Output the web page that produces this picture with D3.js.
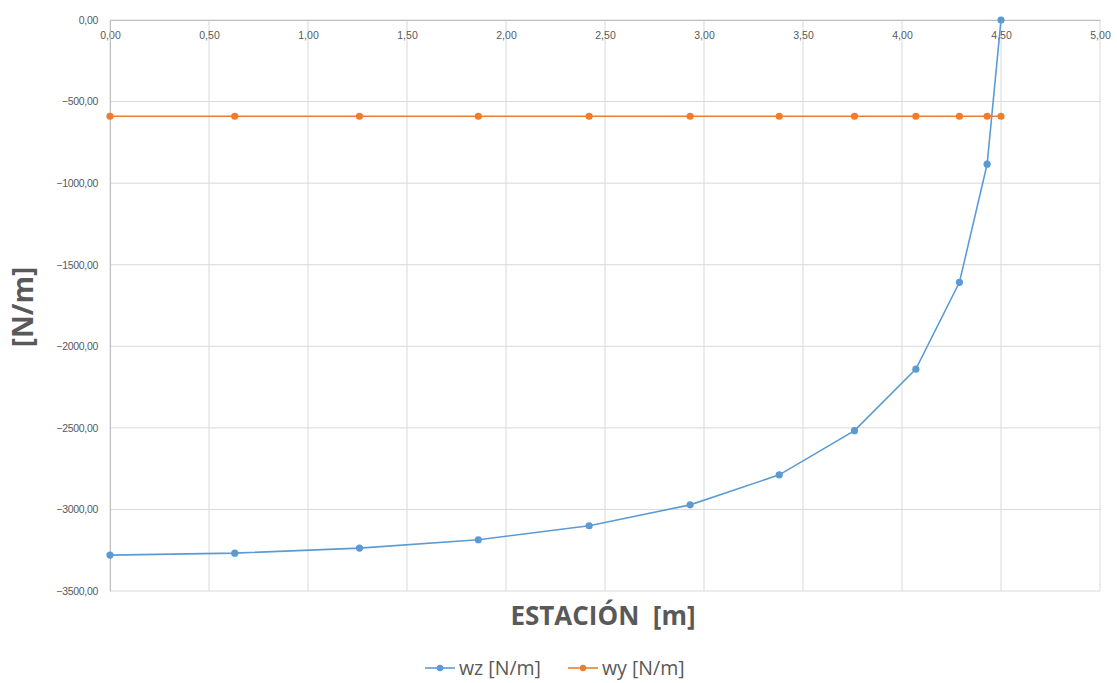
<!DOCTYPE html>
<html>
<head>
<meta charset="utf-8">
<script src="https://cdn.jsdelivr.net/npm/d3@7"></script>
<style>
  html, body { margin: 0; padding: 0; background: #fff; }
  svg { display: block; font-family: "Open Sans", "Liberation Sans", sans-serif; }
</style>
</head>
<body>
<svg id="chart" width="1117" height="683"></svg>
<script>
// ---- data ----
const estacion = [0.00, 0.63, 1.26, 1.86, 2.42, 2.93, 3.38, 3.76, 4.07, 4.29, 4.43, 4.50];
const wz = [-3280, -3268, -3237, -3186, -3100, -2972, -2788, -2517, -2140, -1608, -884, 0];
const wy = [-590, -590, -590, -590, -590, -590, -590, -590, -590, -590, -590, -590];
const xTicks = [0, 0.5, 1, 1.5, 2, 2.5, 3, 3.5, 4, 4.5, 5];
const yTicks = [0, -500, -1000, -1500, -2000, -2500, -3000, -3500];
const seriesNames = ["wz [N/m]", "wy [N/m]"];
const seriesColors = ["#5B9BD5", "#ED7D31"];
const xTitle = "ESTACIÓN  [m]";
const yTitle = "[N/m]";

// ---- layout ----
const svg = d3.select("#chart");
const L = 110, R = 1100, T = 20, B = 591;
const x = d3.scaleLinear().domain([0, 5]).range([L, R]);
const y = d3.scaleLinear().domain([0, -3500]).range([T, B]);
const fmt = v => d3.format(".2f")(v).replace(".", ",");

// gridlines
svg.append("g").selectAll("line").data(xTicks).join("line")
  .attr("x1", d => x(d)).attr("x2", d => x(d)).attr("y1", T).attr("y2", B)
  .attr("stroke", "#d9d9d9").attr("stroke-width", 1);
svg.append("g").selectAll("line").data(yTicks).join("line")
  .attr("x1", L).attr("x2", R).attr("y1", d => y(d)).attr("y2", d => y(d))
  .attr("stroke", "#d9d9d9").attr("stroke-width", 1);

// axes (Excel-style: x axis at y=0 on top, labels below line)
const xAxis = d3.axisBottom(x).tickValues(xTicks).tickFormat(fmt).tickSize(0).tickPadding(12);
const gx = svg.append("g").attr("transform", `translate(0,${y(0)})`).call(xAxis);
gx.select(".domain").attr("stroke", "#bfbfbf");
gx.selectAll("text").attr("fill", "#595959").style("font-size", "10.5px");

const yAxis = d3.axisLeft(y).tickValues(yTicks).tickFormat(fmt).tickSize(0).tickPadding(12);
const gy = svg.append("g").attr("transform", `translate(${L},0)`).call(yAxis);
gy.select(".domain").attr("stroke", "#bfbfbf");
gy.selectAll("text").attr("fill", "#595959").style("font-size", "10.5px")
  .style("letter-spacing", "-0.3px");

// series
const line = d3.line().x(d => x(d[0])).y(d => y(d[1]));
const series = [
  estacion.map((e, i) => [e, wz[i]]),
  estacion.map((e, i) => [e, wy[i]])
];
series.forEach((pts, k) => {
  const g = svg.append("g");
  g.append("path").datum(pts).attr("d", line)
    .attr("fill", "none").attr("stroke", seriesColors[k]).attr("stroke-width", 1.6);
  g.selectAll("circle").data(pts).join("circle")
    .attr("cx", d => x(d[0])).attr("cy", d => y(d[1])).attr("r", 3.6)
    .attr("fill", seriesColors[k]);
});

// titles
svg.append("text").attr("x", 603).attr("y", 625).attr("text-anchor", "middle")
  .attr("fill", "#595959").style("font-size", "26px").style("font-weight", "bold")
  .style("white-space", "pre").text(xTitle);
svg.append("text").attr("transform", "translate(33,307) rotate(-90)")
  .attr("text-anchor", "middle").attr("fill", "#595959")
  .style("font-size", "28px").style("font-weight", "bold").text(yTitle);

// legend
const legX = [425, 568];
seriesNames.forEach((name, k) => {
  const g = svg.append("g").attr("transform", `translate(${legX[k]},668)`);
  g.append("line").attr("x1", 0).attr("x2", 30).attr("y1", 0).attr("y2", 0)
    .attr("stroke", seriesColors[k]).attr("stroke-width", 1.6);
  g.append("circle").attr("cx", 15).attr("cy", 0).attr("r", 3.2).attr("fill", seriesColors[k]);
  g.append("text").attr("x", 34).attr("y", 6.5).attr("fill", "#595959")
    .style("font-size", "19.5px").text(name);
});
</script>
</body>
</html>
